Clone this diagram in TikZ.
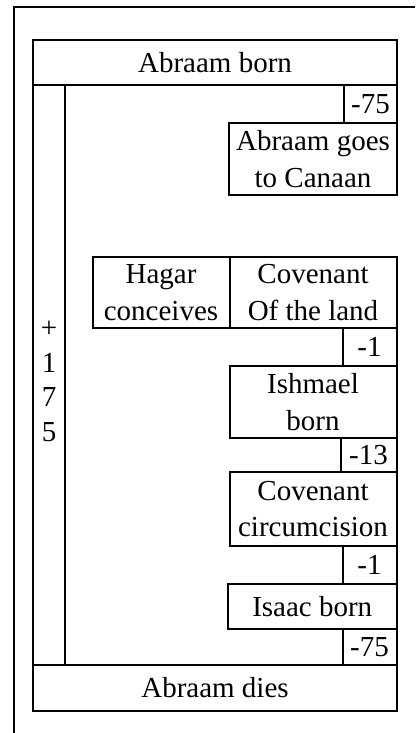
\documentclass[tikz,border=0pt]{standalone}
\usepackage{fontspec}
\setmainfont{Liberation Serif}
\usetikzlibrary{positioning}
\newcommand{\evtfont}{\fontsize{29}{36.5}\selectfont}
\newcommand{\spanfont}{\fontsize{29}{34.7}\selectfont}
\tikzstyle{frame} = [line width=2pt]

\begin{document}
\begin{tikzpicture}[
    x=1pt, y=-1pt,
    event/.style={rectangle, draw, line width=2pt, inner sep=0pt, outer sep=0pt, align=center, font=\evtfont},
    gap/.style={event, font=\evtfont}
]
\useasboundingbox (0,0) rectangle (415,733);
% outer frame, cut by the page edge
\draw[frame] (14,733) -- (14,7) -- (415,7);

% birth, life span and death
\node[event, anchor=north west, minimum width=364, minimum height=45] (born) at (33,40) {Abraam born};
\node[event, below right=0pt of born.south west, minimum width=32, minimum height=580] (life) {};
\node[font=\spanfont, align=center, inner sep=0pt] (span) at (49,381.5) {+\\1\\7\\5};
\node[event, below right=0pt of life.south west, minimum width=364, minimum height=46] (dies) {Abraam dies};

% events, right aligned, with the years between them
\node[gap, below left=0pt of born.south east, minimum width=53, minimum height=38] (y75a) {-75};
\node[event, below left=0pt of y75a.south east, minimum width=168, minimum height=72] (canaan) {Abraam goes\\to Canaan};

\node[event, anchor=north east, minimum width=167, minimum height=71] (land) at (396.5,257) {Covenant\\Of the land};
\node[event, left=0pt of land, minimum width=137, minimum height=71] (hagar) {Hagar\\conceives};
\node[gap, below left=0pt of land.south east, minimum width=54, minimum height=38] (y1a) {-1};
\node[event, below left=0pt of y1a.south east, minimum width=167, minimum height=72] (ishmael) {Ishmael\\born};
\node[gap, below left=0pt of ishmael.south east, minimum width=56, minimum height=34] (y13) {-13};
\node[event, below left=0pt of y13.south east, minimum width=167, minimum height=74] (circ) {Covenant\\circumcision};
\node[gap, below left=0pt of circ.south east, minimum width=54, minimum height=38] (y1b) {-1};
\node[event, below left=0pt of y1b.south east, minimum width=168.5, minimum height=45] (isaac) {Isaac born};
\node[gap, below left=0pt of isaac.south east, minimum width=54, minimum height=36] (y75b) {-75};
\end{tikzpicture}
\end{document}
